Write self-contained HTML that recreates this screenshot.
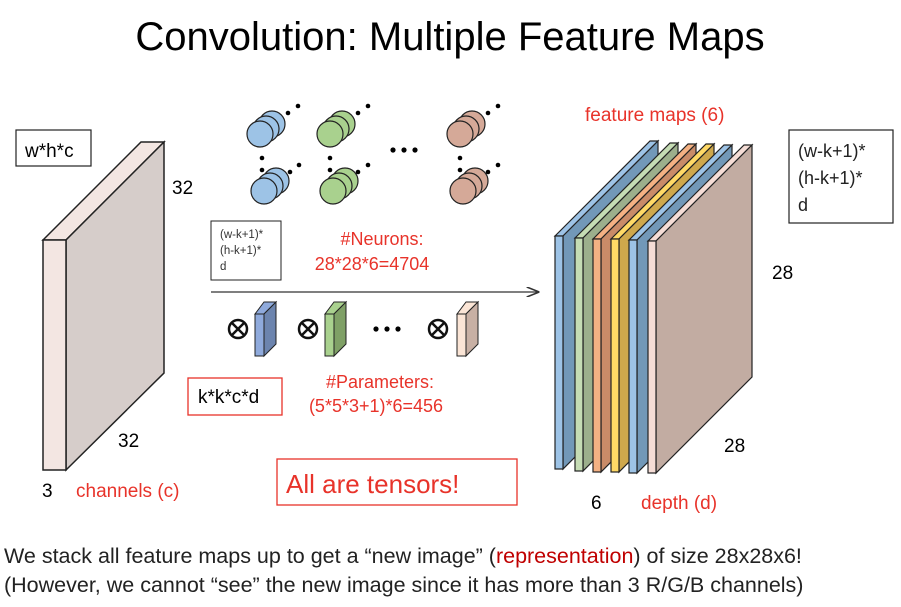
<!DOCTYPE html>
<html><head><meta charset="utf-8"><style>
body{margin:0;background:#fff;}
svg{display:block;font-family:"Liberation Sans",sans-serif;}
</style></head><body>
<svg width="901" height="607" viewBox="0 0 901 607" xmlns="http://www.w3.org/2000/svg">
<defs><marker id="ah" markerWidth="10" markerHeight="8" refX="9" refY="4" orient="auto"><path d="M0,0 L10,4 L0,8" fill="none" stroke="#333" stroke-width="1.2"/></marker>
<g id="circ"><circle cx="12" cy="-10" r="13"/><circle cx="6" cy="-5" r="13"/><circle cx="0" cy="0" r="13"/></g>
</defs>
<text x="450" y="50" font-size="40" text-anchor="middle" fill="#000">Convolution: Multiple Feature Maps</text>

<polygon points="43,240 141,142 164,142 66,240" fill="#f3e6e2" stroke="#222" stroke-width="1.5"/>
<polygon points="66,240 164,142 164,373 66,470" fill="#d6cdca" stroke="#222" stroke-width="1.5"/>
<rect x="43" y="240" width="23" height="230" fill="#f3e6e2" stroke="#222" stroke-width="1.5"/>
<rect x="16" y="130" width="75" height="36" fill="#fff" stroke="#222" stroke-width="1.2"/>
<text x="25" y="157" font-size="19">w*h*c</text>
<text x="172" y="194" font-size="19">32</text>
<text x="118" y="447" font-size="19">32</text>
<text x="42" y="497" font-size="19">3</text>
<text x="76" y="497" font-size="19" fill="#e8332a">channels (c)</text>

<g stroke="#222" stroke-width="1.2">
<use href="#circ" x="260" y="134" fill="#9dc3e6"/>
<use href="#circ" x="264" y="191" fill="#9dc3e6"/>
<use href="#circ" x="330" y="134" fill="#a9d18e"/>
<use href="#circ" x="333" y="191" fill="#a9d18e"/>
<use href="#circ" x="460" y="134" fill="#d5a998"/>
<use href="#circ" x="463" y="191" fill="#d5a998"/>
</g>
<g fill="#000">
<circle cx="288" cy="113" r="2.3"/><circle cx="298" cy="106" r="2.3"/><circle cx="262" cy="158" r="2.3"/><circle cx="262" cy="170" r="2.3"/><circle cx="290" cy="172" r="2.3"/><circle cx="299" cy="165" r="2.3"/>
<circle cx="358" cy="113" r="2.3"/><circle cx="368" cy="106" r="2.3"/><circle cx="330" cy="158" r="2.3"/><circle cx="330" cy="170" r="2.3"/><circle cx="358" cy="172" r="2.3"/><circle cx="368" cy="165" r="2.3"/>
<circle cx="488" cy="113" r="2.3"/><circle cx="498" cy="106" r="2.3"/><circle cx="460" cy="158" r="2.3"/><circle cx="460" cy="170" r="2.3"/><circle cx="488" cy="172" r="2.3"/><circle cx="498" cy="165" r="2.3"/>
<circle cx="393" cy="150" r="2.6"/><circle cx="404" cy="150" r="2.6"/><circle cx="415" cy="150" r="2.6"/>
<circle cx="376" cy="329" r="2.6"/><circle cx="387" cy="329" r="2.6"/><circle cx="398" cy="329" r="2.6"/>
</g>
<rect x="211" y="221" width="70" height="59" fill="#fff" stroke="#222" stroke-width="1"/>
<text font-size="11.5" fill="#333"><tspan x="220" y="238">(w-k+1)*</tspan><tspan x="220" y="254">(h-k+1)*</tspan><tspan x="220" y="270">d</tspan></text>
<text x="382" y="245" font-size="18" fill="#e8332a" text-anchor="middle">#Neurons:</text>
<text x="372" y="270" font-size="18" fill="#e8332a" text-anchor="middle">28*28*6=4704</text>
<line x1="211" y1="292" x2="538" y2="292" stroke="#333" stroke-width="1.3" marker-end="url(#ah)"/>

<g stroke="#111" stroke-width="2.5" fill="none">
<circle cx="238" cy="329" r="9"/><path d="M232,323 L244,335 M244,323 L232,335"/>
<circle cx="308" cy="329" r="9"/><path d="M302,323 L314,335 M314,323 L302,335"/>
<circle cx="438" cy="329" r="9"/><path d="M432,323 L444,335 M444,323 L432,335"/>
</g>
<g stroke="#222" stroke-width="1">
<polygon points="255,314 264,302 276,302 264,314" fill="#8faadc"/><polygon points="264,314 276,302 276,344 264,356" fill="#6c84ae"/><rect x="255" y="314" width="9" height="42" fill="#8faadc"/>
<polygon points="325,314 334,302 346,302 334,314" fill="#a9d18e"/><polygon points="334,314 346,302 346,344 334,356" fill="#7fa066"/><rect x="325" y="314" width="9" height="42" fill="#a9d18e"/>
<polygon points="457,314 466,302 478,302 466,314" fill="#fbe5d6"/><polygon points="466,314 478,302 478,344 466,356" fill="#c8b0a4"/><rect x="457" y="314" width="9" height="42" fill="#fbe5d6"/>
</g>
<rect x="188" y="378" width="94" height="37" fill="#fff" stroke="#e8332a" stroke-width="1.3"/>
<text x="198" y="403" font-size="19">k*k*c*d</text>
<text x="380" y="388" font-size="18" fill="#e8332a" text-anchor="middle">#Parameters:</text>
<text x="376" y="412" font-size="18" fill="#e8332a" text-anchor="middle">(5*5*3+1)*6=456</text>
<rect x="277" y="459" width="240" height="46" fill="#fff" stroke="#e8332a" stroke-width="1.3"/>
<text x="286" y="493" font-size="26" fill="#e8332a">All are tensors!</text>

<g stroke="#222" stroke-width="1.2">
<polygon points="555,236 650,141 658,141 563,236" fill="#9dc3e6"/><polygon points="563,236 658,141 658,374 563,469" fill="#7298b8"/><rect x="555" y="236" width="8" height="233" fill="#9dc3e6"/>
<polygon points="575,238 670,143 678,143 583,238" fill="#c5dcb4"/><polygon points="583,238 678,143 678,376 583,471" fill="#9caf8c"/><rect x="575" y="238" width="8" height="233" fill="#c5dcb4"/>
<polygon points="593,239 688,144 696,144 601,239" fill="#f4b183"/><polygon points="601,239 696,144 696,377 601,472" fill="#c98b68"/><rect x="593" y="239" width="8" height="233" fill="#f4b183"/>
<polygon points="611,239 706,144 714,144 619,239" fill="#ffd966"/><polygon points="619,239 714,144 714,377 619,472" fill="#cfa84c"/><rect x="611" y="239" width="8" height="233" fill="#ffd966"/>
<polygon points="629,240 724,145 732,145 637,240" fill="#9dc3e6"/><polygon points="637,240 732,145 732,378 637,473" fill="#7298b8"/><rect x="629" y="240" width="8" height="233" fill="#9dc3e6"/>
<polygon points="648,241 744,145 752,145 656,241" fill="#f5ddd6"/><polygon points="656,241 752,145 752,377 656,473" fill="#c2aca2"/><rect x="648" y="241" width="8" height="232" fill="#f5ddd6"/>
</g>
<text x="585" y="121" font-size="19" fill="#e8332a">feature maps (6)</text>
<rect x="789" y="130" width="104" height="93" fill="#fff" stroke="#222" stroke-width="1.2"/>
<text font-size="18" fill="#222"><tspan x="798" y="157">(w-k+1)*</tspan><tspan x="798" y="184">(h-k+1)*</tspan><tspan x="798" y="211">d</tspan></text>
<text x="772" y="279" font-size="19">28</text>
<text x="724" y="452" font-size="19">28</text>
<text x="591" y="509" font-size="19">6</text>
<text x="641" y="509" font-size="19" fill="#e8332a">depth (d)</text>

<text x="4" y="563" font-size="21.5" fill="#222">We stack all feature maps up to get a “new image” (<tspan fill="#c00000">representation</tspan>) of size 28x28x6!</text>
<text x="4" y="592" font-size="21.5" fill="#222">(However, we cannot “see” the new image since it has more than 3 R/G/B channels)</text>
</svg>
</body></html>
